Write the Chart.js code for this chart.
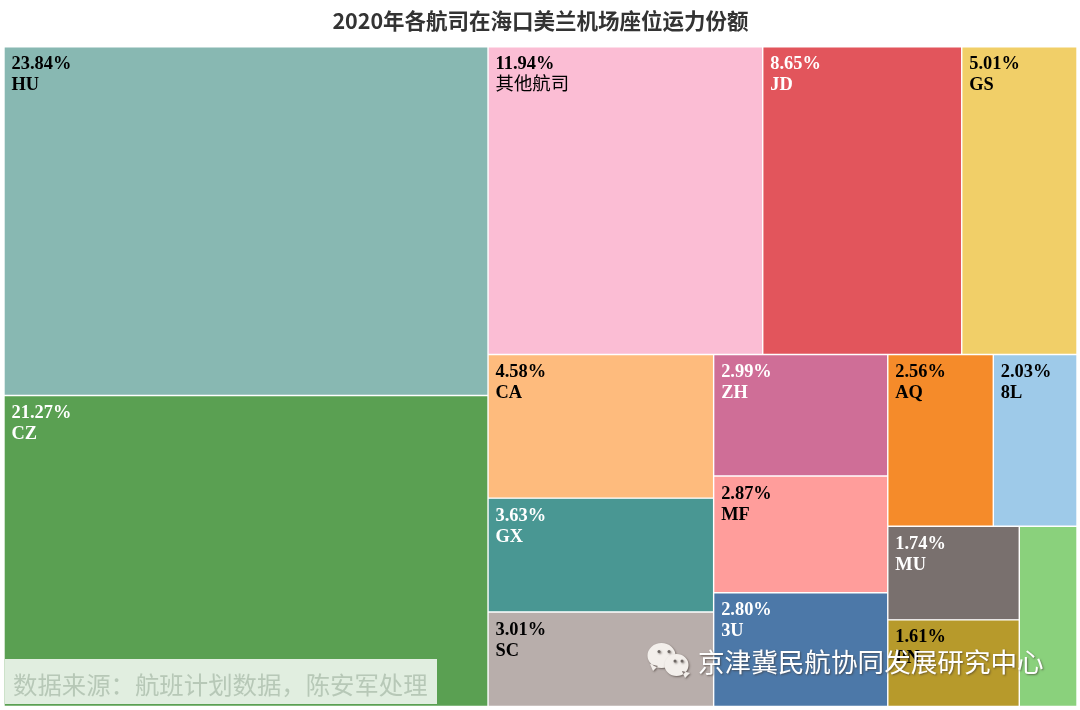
<!DOCTYPE html>
<html>
<head>
<meta charset="utf-8">
<title>2020年各航司在海口美兰机场座位运力份额</title>
<script src="https://cdn.jsdelivr.net/npm/chart.js@4/dist/chart.umd.min.js"></script>
<style>
  html, body { margin: 0; padding: 0; background: #fff; }
  #wrap { position: relative; width: 1080px; height: 710px; }
</style>
</head>
<body>
<div id="wrap"><canvas id="chart" width="1080" height="710"></canvas></div>
<script>
// Chart data
const chartTitle = '2020年各航司在海口美兰机场座位运力份额';
const carriers = ['HU', 'CZ', '其他航司', 'JD', 'GS', 'CA', 'GX', 'SC', 'ZH', 'MF', '3U', 'AQ', '8L', 'MU', 'PN', ''];
const shares   = [23.84, 21.27, 11.94, 8.65, 5.01, 4.58, 3.63, 3.01, 2.99, 2.87, 2.80, 2.56, 2.03, 1.74, 1.61, 1.47];
const colors   = ['#88b8b2', '#5aa052', '#fbbdd4', '#e2555c', '#f1cf68', '#febb7d', '#499793', '#b8aeab',
                  '#cf6e97', '#ff9d9b', '#4c78a8', '#f58b2a', '#9ecae9', '#79706e', '#b79a2b', '#8ad17c'];
const labelColors = ['#000', '#fff', '#000', '#fff', '#000', '#000', '#fff', '#000',
                     '#fff', '#000', '#fff', '#000', '#000', '#fff', '#000', '#000'];
// nesting of the treemap, children alternate between side by side and stacked
const groups = [[0, 1], [[2, 3, 4], [[5, 6, 7], [8, 9, 10], [[11, 12], [[13, 14], 15]]]]];
const sourceNote = '数据来源\uFF1A航班计划数据\uFF0C陈安军处理';
const watermark = '京津冀民航协同发展研究中心';

const sumOf = node => Array.isArray(node) ? node.reduce((s, n) => s + sumOf(n), 0) : shares[node];

// Splits the 0-100 box by value, result is in axis units
function layoutCells(node, x0, x1, y0, y1, across, out) {
  if (!Array.isArray(node)) { out[node] = { x0, x1, y0, y1 }; return out; }
  const total = sumOf(node);
  let pos = across ? x0 : y0;
  node.forEach(child => {
    const size = sumOf(child) / total * (across ? x1 - x0 : y1 - y0);
    if (across) layoutCells(child, pos, pos + size, y0, y1, false, out);
    else layoutCells(child, x0, x1, pos, pos + size, true, out);
    pos += size;
  });
  return out;
}
const cells = layoutCells(groups, 0, 100, 0, 100, true, []);

// Bar elements, but placed by both axes instead of the category slots
class TreemapController extends Chart.BarController {
  updateElements(rects, start, count, mode) {
    const sx = this.chart.scales.tx;
    const sy = this.chart.scales.y;
    for (let i = start; i < start + count; i++) {
      const c = cells[i];
      const left = sx.getPixelForValue(c.x0), right = sx.getPixelForValue(c.x1);
      const top = sy.getPixelForValue(c.y0), bottom = sy.getPixelForValue(c.y1);
      this.updateElement(rects[i], i, {
        horizontal: false,
        x: (left + right) / 2,
        y: top,
        base: bottom,
        width: right - left,
        height: bottom - top,
        borderSkipped: { top: false, left: false, bottom: false, right: false },
        enableBorderRadius: false,
        inflateAmount: 0,
        options: this.resolveDataElementOptions(i, mode)
      }, mode);
    }
  }
}
TreemapController.id = 'treemap';
Chart.register(TreemapController);

const cellLabels = {
  id: 'cellLabels',
  afterDatasetsDraw(chart) {
    const { ctx, scales } = chart;
    ctx.save();
    ctx.textAlign = 'left';
    ctx.textBaseline = 'alphabetic';
    carriers.forEach((name, i) => {
      if (!name) return;
      const x = scales.tx.getPixelForValue(cells[i].x0) + 7.5;
      const y = scales.y.getPixelForValue(cells[i].y0);
      ctx.fillStyle = labelColors[i];
      ctx.font = 'bold 18.4px "Liberation Serif"';
      ctx.fillText(shares[i].toFixed(2) + '%', x, y + 22.5);
      ctx.font = /[^\x00-\x7f]/.test(name) ? '18.4px "Noto Sans CJK SC"' : 'bold 18.4px "Liberation Serif"';
      ctx.fillText(name, x, y + 43.5);
    });
    ctx.restore();
  }
};

// Image overlays of the original: source box, logo and account name
const overlays = {
  id: 'overlays',
  afterDraw(chart) {
    const { ctx } = chart;
    ctx.save();
    ctx.fillStyle = 'rgba(255,255,255,0.82)';
    ctx.fillRect(5, 659, 432, 45);
    ctx.fillStyle = '#b7c8b7';
    ctx.font = '24.4px "Noto Sans CJK SC"';
    ctx.textBaseline = 'middle';
    ctx.fillText(sourceNote, 13, 685);

    const bubble = (cx, cy, rx, ry, tailX, tailY, eyes) => {
      ctx.fillStyle = '#f3efeb';
      ctx.beginPath();
      ctx.ellipse(cx, cy, rx, ry, 0, 0, Math.PI * 2);
      ctx.moveTo(tailX - 3, tailY - 7);
      ctx.lineTo(tailX, tailY);
      ctx.lineTo(tailX + 5, tailY - 5);
      ctx.fill();
      ctx.fillStyle = '#6d6763';
      eyes.forEach(ex => { ctx.beginPath(); ctx.arc(ex, cy - 4, 1.5, 0, Math.PI * 2); ctx.fill(); });
    };
    ctx.shadowColor = 'rgba(60,50,45,0.6)';
    ctx.shadowBlur = 2;
    ctx.shadowOffsetX = 1;
    ctx.shadowOffsetY = 1;
    bubble(661.5, 655.5, 14, 12.5, 653, 671, [659, 669]);
    bubble(676.5, 665, 12, 11, 685, 678, [675, 682]);

    ctx.fillStyle = '#fff';
    ctx.font = '26.6px "Noto Sans CJK SC"';
    ctx.fillText(watermark, 698, 662);
    ctx.restore();
  }
};

new Chart(document.getElementById('chart'), {
  type: 'treemap',
  data: {
    labels: carriers,
    datasets: [{
      data: shares,
      backgroundColor: colors,
      borderColor: '#ffffff',
      borderWidth: 0.7,
      borderSkipped: false
    }]
  },
  options: {
    responsive: false,
    devicePixelRatio: 1,
    animation: false,
    layout: { padding: { left: 4, right: 3, top: 0, bottom: 3.5 } },
    plugins: {
      legend: { display: false },
      tooltip: { enabled: false },
      title: {
        display: true,
        text: chartTitle,
        color: '#333333',
        font: { family: '"Noto Sans CJK SC"', size: 21.5, weight: 'bold' },
        padding: { top: 8, bottom: 13 }
      }
    },
    scales: {
      x: { display: false },
      tx: { type: 'linear', axis: 'x', position: 'bottom', min: 0, max: 100, offset: false, display: false },
      y: { type: 'linear', reverse: true, min: 0, max: 100, display: false }
    }
  },
  plugins: [cellLabels, overlays]
});
</script>
</body>
</html>
